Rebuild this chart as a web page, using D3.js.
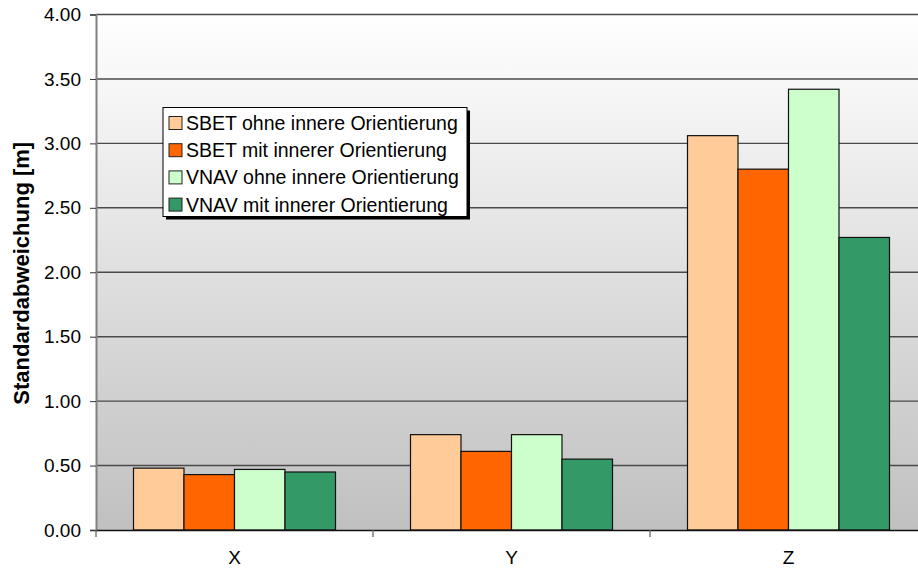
<!DOCTYPE html>
<html>
<head>
<meta charset="utf-8">
<script src="https://cdn.jsdelivr.net/npm/d3@7"></script>
<style>
  html, body { margin: 0; padding: 0; background: #fff; }
  svg { display: block; font-family: "Liberation Sans", Arial, sans-serif; }
</style>
</head>
<body>
<svg id="chart" width="918" height="569"></svg>
<script>
const categories = ["X", "Y", "Z"];
const seriesNames = [
  "SBET ohne innere Orientierung",
  "SBET mit innerer Orientierung",
  "VNAV ohne innere Orientierung",
  "VNAV mit innerer Orientierung"
];
const seriesColors = ["#FFCC99", "#FF6600", "#CCFFCC", "#339966"];
const sbetOhne = [0.48, 0.74, 3.06];
const sbetMit = [0.43, 0.61, 2.80];
const vnavOhne = [0.47, 0.74, 3.42];
const vnavMit = [0.45, 0.55, 2.27];
const yTicks = [0, 0.5, 1, 1.5, 2, 2.5, 3, 3.5, 4];
const yTitle = "Standardabweichung [m]";

const seriesValues = [sbetOhne, sbetMit, vnavOhne, vnavMit];

const svg = d3.select("#chart");
const plotLeft = 96, plotTop = 14.5, plotBottom = 530;
const catWidth = 277;
const plotRight = plotLeft + catWidth * categories.length;

const x = d3.scaleBand().domain(categories).range([plotLeft, plotRight]).padding(0);
const xi = d3.scaleBand().domain(d3.range(seriesNames.length))
  .range([37.5, catWidth - 37.5]).padding(0);
const y = d3.scaleLinear().domain([0, 4]).range([plotBottom, plotTop]);

// background gradient
const defs = svg.append("defs");
const grad = defs.append("linearGradient").attr("id", "bg")
  .attr("x1", 0).attr("y1", 0).attr("x2", 0).attr("y2", 1);
grad.append("stop").attr("offset", "0%").attr("stop-color", "#ffffff");
grad.append("stop").attr("offset", "100%").attr("stop-color", "#c0c0c0");

svg.append("rect")
  .attr("x", plotLeft).attr("y", plotTop)
  .attr("width", plotRight - plotLeft).attr("height", plotBottom - plotTop)
  .attr("fill", "url(#bg)");

// gridlines
svg.append("g")
  .selectAll("line")
  .data(yTicks.filter(d => d > 0))
  .join("line")
  .attr("x1", plotLeft).attr("x2", plotRight)
  .attr("y1", d => y(d)).attr("y2", d => y(d))
  .attr("stroke", "#4a4a4a").attr("stroke-width", 1.4);

// bars
const groups = svg.append("g")
  .selectAll("g")
  .data(categories)
  .join("g")
  .attr("transform", d => `translate(${x(d)},0)`);

groups.selectAll("rect")
  .data((c, ci) => seriesValues.map((vals, si) => ({ si, v: vals[ci] })))
  .join("rect")
  .attr("x", d => xi(d.si))
  .attr("width", xi.bandwidth())
  .attr("y", d => y(d.v))
  .attr("height", d => y(0) - y(d.v))
  .attr("fill", d => seriesColors[d.si])
  .attr("stroke", "#111")
  .attr("stroke-width", 1.2);

// y axis
const yAxis = d3.axisLeft(y).tickValues(yTicks)
  .tickFormat(d3.format(".2f")).tickSize(6).tickPadding(9);
const yg = svg.append("g").attr("transform", `translate(${plotLeft},0)`).call(yAxis);
yg.select(".domain").attr("stroke", "#808080").attr("stroke-width", 2);
yg.selectAll(".tick line").attr("stroke", "#333");
yg.selectAll(".tick text")
  .attr("font-size", 19).attr("fill", "#000")
  .attr("font-family", "Liberation Sans, Arial, sans-serif");

// x axis
const xAxis = d3.axisBottom(x).tickSize(0).tickPadding(21);
const xg = svg.append("g").attr("transform", `translate(0,${plotBottom})`).call(xAxis);
xg.select(".domain").attr("stroke", "#111").attr("stroke-width", 1.5);
xg.selectAll(".tick text")
  .attr("font-size", 19).attr("fill", "#000")
  .attr("font-family", "Liberation Sans, Arial, sans-serif");
// category boundary ticks
xg.append("g").selectAll("line")
  .data(d3.range(categories.length + 1))
  .join("line")
  .attr("x1", i => plotLeft + i * x.step()).attr("x2", i => plotLeft + i * x.step())
  .attr("y1", 0).attr("y2", 7)
  .attr("stroke", "#666").attr("stroke-width", 1.3);

// y title
svg.append("text")
  .attr("transform", `translate(29,${(plotTop + plotBottom) / 2 + 1}) rotate(-90)`)
  .attr("text-anchor", "middle")
  .attr("font-size", 22).attr("font-weight", "bold")
  .text(yTitle);

// legend
const lg = svg.append("g").attr("transform", "translate(163,107.5)");
const lw = 304, lh = 109;
lg.append("rect").attr("x", 3).attr("y", 3).attr("width", lw).attr("height", lh).attr("fill", "#000");
lg.append("rect").attr("x", 0).attr("y", 0).attr("width", lw).attr("height", lh)
  .attr("fill", "#fff").attr("stroke", "#000").attr("stroke-width", 1);
const items = lg.selectAll("g.item").data(seriesNames).join("g")
  .attr("class", "item")
  .attr("transform", (d, i) => `translate(0,${15.5 + i * 27.2})`);
items.append("rect").attr("x", 6).attr("y", -6.5).attr("width", 13).attr("height", 13)
  .attr("fill", (d, i) => seriesColors[i]).attr("stroke", "#222").attr("stroke-width", 1);
items.append("text").attr("x", 23).attr("y", 7)
  .attr("font-size", 19.5).text(d => d);
</script>
</body>
</html>
